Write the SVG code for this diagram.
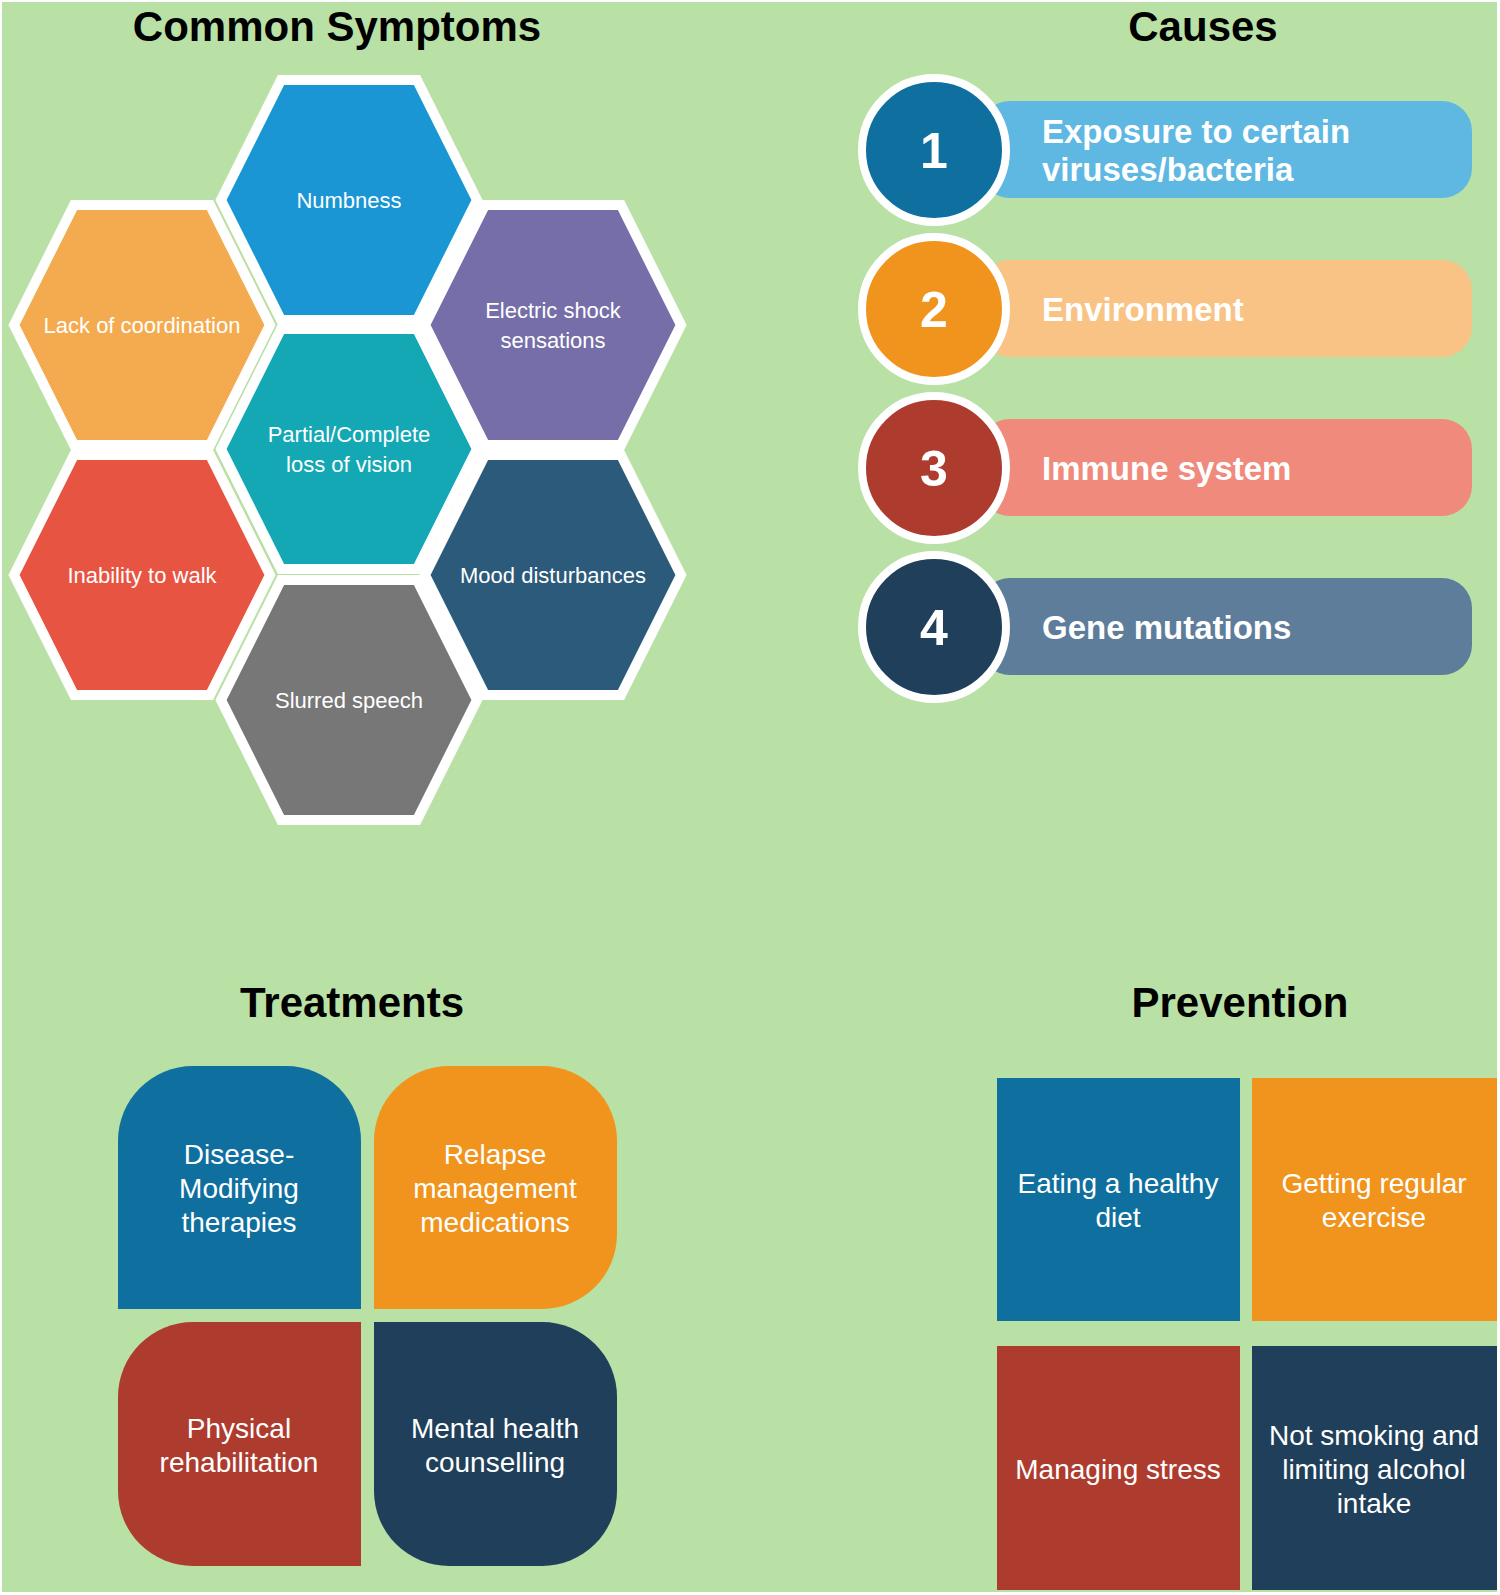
<svg xmlns="http://www.w3.org/2000/svg" width="1500" height="1595" viewBox="0 0 1500 1595">
<style>
text{font-family:"Liberation Sans",Arial,sans-serif;text-anchor:middle;fill:#fff}
.t{fill:#000;font-weight:bold;font-size:42px}
.h{stroke:#fff;stroke-width:10;stroke-linejoin:miter}
.hl{font-size:22px}
.cl{font-size:33px;font-weight:bold;text-anchor:start}
.num{font-size:50px;font-weight:bold}
.tr{font-size:28px}
</style>
<defs>
<polygon id="hex" points="-128,0 -68,-120 68,-120 128,0 68,120 -68,120"/>
</defs>
<rect width="1500" height="1595" fill="#fff"/>
<rect x="2" y="2" width="1495" height="1590" fill="#b9e0a5"/>
<text class="t" x="337" y="41">Common Symptoms</text>
<g id="numbness"><use href="#hex" x="349" y="200" class="h" fill="#1a96d4"/><text class="hl" x="349" y="208">Numbness</text></g>
<g id="coordination"><use href="#hex" x="142" y="325" class="h" fill="#f4ab4f"/><text class="hl" x="142" y="333">Lack of coordination</text></g>
<g id="electric"><use href="#hex" x="553" y="325" class="h" fill="#766ea8"/><text class="hl" x="553" y="318">Electric shock</text><text class="hl" x="553" y="348">sensations</text></g>
<g id="vision"><use href="#hex" x="349" y="449" class="h" fill="#14a8b4"/><text class="hl" x="349" y="442">Partial/Complete</text><text class="hl" x="349" y="472">loss of vision</text></g>
<g id="walk"><use href="#hex" x="142" y="575" class="h" fill="#e85442"/><text class="hl" x="142" y="583">Inability to walk</text></g>
<g id="mood"><use href="#hex" x="553" y="575" class="h" fill="#2c5a7a"/><text class="hl" x="553" y="583">Mood disturbances</text></g>
<g id="speech"><use href="#hex" x="349" y="700" class="h" fill="#777"/><text class="hl" x="349" y="708">Slurred speech</text></g>

<text class="t" x="1203" y="41">Causes</text>
<g id="cause1"><rect x="980" y="101" width="492" height="97" rx="30" fill="#5fb8e2"/><circle cx="934" cy="150" r="72" fill="#0f6f9e" stroke="#fff" stroke-width="8"/><text class="num" x="934" y="168">1</text><text class="cl" x="1042" y="143">Exposure to certain</text><text class="cl" x="1042" y="181">viruses/bacteria</text></g>
<g id="cause2"><rect x="980" y="260" width="492" height="97" rx="30" fill="#f8c384"/><circle cx="934" cy="309" r="72" fill="#f0941e" stroke="#fff" stroke-width="8"/><text class="num" x="934" y="327">2</text><text class="cl" x="1042" y="321">Environment</text></g>
<g id="cause3"><rect x="980" y="419" width="492" height="97" rx="30" fill="#f08a7c"/><circle cx="934" cy="468" r="72" fill="#ad3c2f" stroke="#fff" stroke-width="8"/><text class="num" x="934" y="486">3</text><text class="cl" x="1042" y="480">Immune system</text></g>
<g id="cause4"><rect x="980" y="578" width="492" height="97" rx="30" fill="#5d7d9a"/><circle cx="934" cy="627" r="72" fill="#1f3f5a" stroke="#fff" stroke-width="8"/><text class="num" x="934" y="645">4</text><text class="cl" x="1042" y="639">Gene mutations</text></g>

<text class="t" x="352" y="1017">Treatments</text>
<g id="dmt"><path d="M118,1309 V1141 A75,75 0 0 1 193,1066 H286 A75,75 0 0 1 361,1141 V1309 Z" fill="#0f6f9e"/><text class="tr" x="239" y="1164">Disease-</text><text class="tr" x="239" y="1198">Modifying</text><text class="tr" x="239" y="1232">therapies</text></g>
<g id="relapse"><path d="M374,1309 V1141 A75,75 0 0 1 449,1066 H542 A75,75 0 0 1 617,1141 V1234 A75,75 0 0 1 542,1309 Z" fill="#f0941e"/><text class="tr" x="495" y="1164">Relapse</text><text class="tr" x="495" y="1198">management</text><text class="tr" x="495" y="1232">medications</text></g>
<g id="rehab"><path d="M361,1322 V1566 H193 A75,75 0 0 1 118,1491 V1397 A75,75 0 0 1 193,1322 Z" fill="#ad3c2f"/><text class="tr" x="239" y="1438">Physical</text><text class="tr" x="239" y="1472">rehabilitation</text></g>
<g id="mental"><path d="M374,1322 H542 A75,75 0 0 1 617,1397 V1491 A75,75 0 0 1 542,1566 H449 A75,75 0 0 1 374,1491 Z" fill="#1f3f5a"/><text class="tr" x="495" y="1438">Mental health</text><text class="tr" x="495" y="1472">counselling</text></g>

<text class="t" x="1240" y="1017">Prevention</text>
<g id="diet"><rect x="997" y="1078" width="243" height="243" fill="#0f6f9e"/><text class="tr" x="1118" y="1193">Eating a healthy</text><text class="tr" x="1118" y="1227">diet</text></g>
<g id="exercise"><rect x="1252" y="1078" width="245" height="243" fill="#f0941e"/><text class="tr" x="1374" y="1193">Getting regular</text><text class="tr" x="1374" y="1227">exercise</text></g>
<g id="stress"><rect x="997" y="1346" width="243" height="244" fill="#ad3c2f"/><text class="tr" x="1118" y="1479">Managing stress</text></g>
<g id="smoking"><rect x="1252" y="1346" width="245" height="244" fill="#1f3f5a"/><text class="tr" x="1374" y="1445">Not smoking and</text><text class="tr" x="1374" y="1479">limiting alcohol</text><text class="tr" x="1374" y="1513">intake</text></g>
<g id="connectors"/>
</svg>
